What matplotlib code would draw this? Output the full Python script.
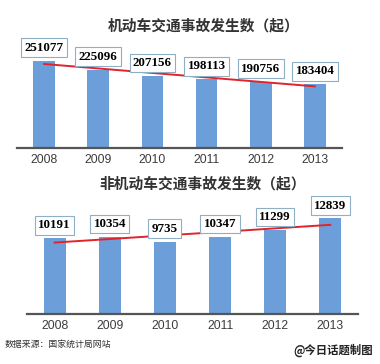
import numpy as np
import matplotlib.pyplot as plt

plt.rcParams['font.family'] = ['Noto Sans CJK SC', 'DejaVu Sans']

years = ['2008', '2009', '2010', '2011', '2012', '2013']
motor = [251077, 225096, 207156, 198113, 190756, 183404]
nonmotor = [10191, 10354, 9735, 10347, 11299, 12839]

title_motor = '机动车交通事故发生数（起）'
title_nonmotor = '非机动车交通事故发生数（起）'
source = '数据来源：国家统计局网站'
credit = '@今日话题制图'

W, H = 380, 364
fig = plt.figure(figsize=(W / 100, H / 100), dpi=100)
fig.patch.set_facecolor('white')

bar_color = '#6c9fd9'
line_color = '#e2232b'


def panel(left, base, width, height, scale, values, bw, off):
    # left/base/width/height in pixels, scale = px per unit
    ax = fig.add_axes([left / W, 1 - base / H, width / W, height / H])
    x = np.arange(len(values))
    ax.bar(x, values, width=bw, color=bar_color, zorder=2)
    ax.set_xlim(-0.5, 5.5)
    ax.set_ylim(0, height / scale)
    for s in ['top', 'right', 'left']:
        ax.spines[s].set_visible(False)
    ax.spines['bottom'].set_color('#555555')
    ax.spines['bottom'].set_linewidth(1.6)
    ax.set_yticks([])
    ax.set_xticks(x)
    ax.set_xticklabels(years, family='Liberation Sans', fontsize=8.7, color='#3c3c3c')
    ax.tick_params(axis='x', length=0, pad=4.5)

    # linear trend line
    k, b = np.polyfit(x, values, 1)
    xs = np.array([0.0, 5.0])
    ax.plot(xs, k * xs + b, color=line_color, lw=1.4, zorder=3)

    for i, v in enumerate(values):
        ax.annotate(str(v), (i, v), xytext=(0, off), textcoords='offset points',
                    ha='center', va='center', family='Liberation Serif',
                    fontweight='bold', fontsize=9.4, color='black', zorder=4,
                    bbox=dict(boxstyle='square,pad=0.26', fc='white',
                              ec='#8fb0c4', lw=0.8))
    return ax


panel(17, 148, 325, 120, 3.48e-4, motor, 0.40, 9.3)
panel(27, 314, 331, 122, 7.44e-3, nonmotor, 0.40, 9.3)

fig.text(204 / W, 1 - 25 / H, title_motor, ha='center', va='center',
         fontsize=10.6, fontweight='bold', color='#333333')
fig.text(203 / W, 1 - 183 / H, title_nonmotor, ha='center', va='center',
         fontsize=10.6, fontweight='bold', color='#333333')
fig.text(5 / W, 1 - 344 / H, source, ha='left', va='center',
         fontsize=6.4, color='#333333')
fig.text(373 / W, 1 - 350 / H, credit, ha='right', va='center',
         fontsize=8.2, fontweight='bold', color='#222222')

fig.savefig('out.png', dpi=100, facecolor='white')
